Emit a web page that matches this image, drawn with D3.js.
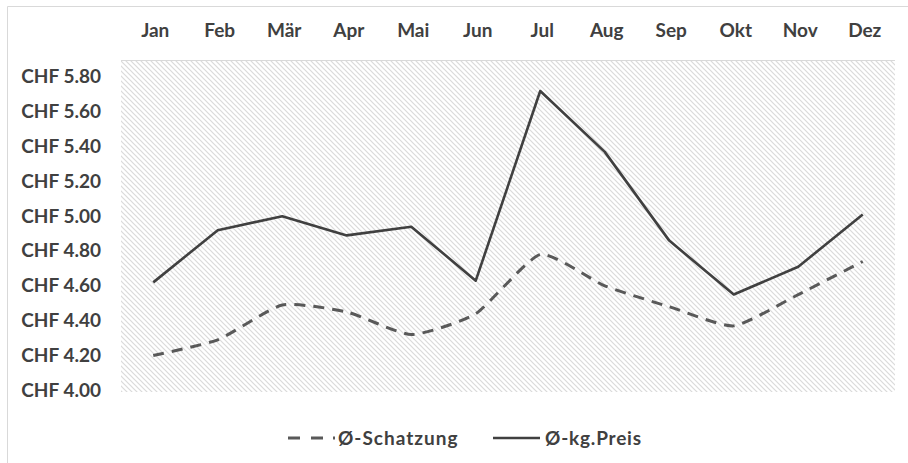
<!DOCTYPE html>
<html>
<head>
<meta charset="utf-8">
<script src="https://cdn.jsdelivr.net/npm/d3@7"></script>
<style>
  body { margin: 0; background: #fff; }
  text { font-family: Lato, "Open Sans", sans-serif; font-weight: bold; fill: #404040; }
</style>
</head>
<body>
<svg id="chart" width="908" height="463"></svg>
<script>
var months = ["Jan", "Feb", "Mär", "Apr", "Mai", "Jun", "Jul", "Aug", "Sep", "Okt", "Nov", "Dez"];
var schaetzung = [4.21, 4.30, 4.50, 4.46, 4.33, 4.45, 4.79, 4.61, 4.49, 4.38, 4.56, 4.75];
var kgPreis = [4.63, 4.93, 5.01, 4.90, 4.95, 4.64, 5.73, 5.38, 4.87, 4.56, 4.72, 5.02];
var yTicks = [4.0, 4.2, 4.4, 4.6, 4.8, 5.0, 5.2, 5.4, 5.6, 5.8];

var svg = d3.select("#chart");
var plot = {left: 121, right: 895, top: 60, bottom: 392};

// outer frame (only top and left visible)
svg.append("path")
    .attr("d", "M7.5,463 L7.5,6.5 L908,6.5")
    .attr("fill", "none").attr("stroke", "#d9d9d9").attr("stroke-width", 1);

// hatch pattern
var defs = svg.append("defs");
var pat = defs.append("pattern")
    .attr("id", "hatch").attr("patternUnits", "userSpaceOnUse")
    .attr("width", 5).attr("height", 5);
pat.append("rect").attr("width", 5).attr("height", 5).attr("fill", "#fff");
pat.append("path")
    .attr("d", "M-1,-1 L6,6 M-1,4 L1,6 M4,-1 L6,1")
    .attr("stroke", "#dadada").attr("stroke-width", 1.2);

var xScale = d3.scaleBand().domain(months).range([plot.left, plot.right]);
var yScale = d3.scaleLinear().domain([4.0, 5.908]).range([plot.bottom, plot.top]);

svg.append("rect")
    .attr("x", plot.left).attr("y", plot.top)
    .attr("width", plot.right - plot.left).attr("height", plot.bottom - plot.top)
    .attr("fill", "url(#hatch)");
svg.append("line")
    .attr("x1", plot.left).attr("x2", plot.right).attr("y1", plot.top + 0.5).attr("y2", plot.top + 0.5)
    .attr("stroke", "#d9d9d9");

// month labels on top
svg.append("g").selectAll("text")
    .data(months).enter().append("text")
    .attr("x", function(d){ return xScale(d) + xScale.bandwidth()/2 + 2; })
    .attr("y", 37)
    .attr("text-anchor", "middle")
    .attr("font-size", "19px")
    .text(function(d){ return d; });

// y labels
svg.append("g").selectAll("text")
    .data(yTicks).enter().append("text")
    .attr("x", 101)
    .attr("y", function(d){ return yScale(d) - 2; })
    .attr("dy", "0.35em")
    .attr("text-anchor", "end")
    .attr("font-size", "19px")
    .text(function(d){ return "CHF " + d3.format(".2f")(d); });

var xPos = function(d, i){ return xScale(months[i]) + xScale.bandwidth()/2; };

var dashed = d3.line().x(xPos).y(function(d){ return yScale(d); })
    .curve(d3.curveCardinal.tension(0.45));
var solid = d3.line().x(xPos).y(function(d){ return yScale(d); });

svg.append("path")
    .attr("d", dashed(schaetzung))
    .attr("fill", "none").attr("stroke", "#595959")
    .attr("stroke-width", 3).attr("stroke-dasharray", "11,8");

svg.append("path")
    .attr("d", solid(kgPreis))
    .attr("fill", "none").attr("stroke", "#404040")
    .attr("stroke-width", 2.6).attr("stroke-linejoin", "round");

// legend
var legend = svg.append("g");
legend.append("line")
    .attr("x1", 288).attr("x2", 335).attr("y1", 438).attr("y2", 438)
    .attr("stroke", "#595959").attr("stroke-width", 3).attr("stroke-dasharray", "12,11,12,10,3");
legend.append("text").attr("x", 338).attr("y", 438).attr("dy", "0.35em")
    .attr("font-size", "19px").attr("letter-spacing", "1px").text("Ø-Schatzung");
legend.append("line")
    .attr("x1", 493).attr("x2", 540).attr("y1", 438).attr("y2", 438)
    .attr("stroke", "#404040").attr("stroke-width", 2.6);
legend.append("text").attr("x", 545).attr("y", 438).attr("dy", "0.35em")
    .attr("font-size", "19px").attr("letter-spacing", "0.8px").text("Ø-kg.Preis");
</script>
</body>
</html>
